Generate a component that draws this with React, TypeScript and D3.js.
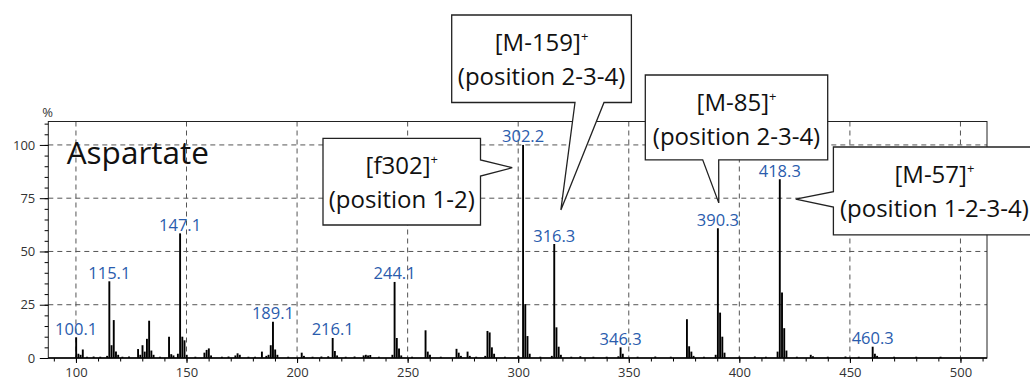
import React from "react";
import * as d3 from "d3";

const W = 1030;
const H = 380;
const plot = { left: 48.3, right: 987, top: 121.5, bottom: 358 };

// m/z of each centroided peak and its relative intensity (%)
const peakMz = [
  100.1, 101.1, 102.1, 103.1, 105, 108, 111,
  114.1, 115.1, 116.1, 117.1, 118.1, 119.1, 121, 124,
  128.1, 129.1, 130.1, 131.1, 132.1, 133.1, 134.1, 135.1, 138,
  142.1, 143.1, 144.1, 146.1, 147.1, 148.1, 149.1, 150.1, 154,
  158.1, 159.1, 160.1, 161.1, 166, 169,
  172.1, 173.1, 174.1, 178, 181,
  184.1, 186.1, 187.1, 188.1, 189.1, 190.1, 191.1, 196,
  202.1, 203.1, 207, 211,
  214.1, 216.1, 217.1, 218.1, 222, 226,
  230.1, 231.1, 232.1, 233.1, 237,
  243.1, 244.1, 245.1, 246.1, 247.1, 252,
  258.1, 259.1, 260.1, 265,
  272.1, 273.1, 274.1, 277.1, 278.1, 281,
  285.1, 286.1, 287.1, 288.1, 289.1, 294,
  300.1, 302.2, 303.2, 304.2, 305.2, 310,
  315.2, 316.3, 317.3, 318.3, 319.3, 324, 328.1, 334,
  340, 345.3, 346.3, 347.3, 354, 362, 369,
  376.3, 377.3, 378.3, 379.3, 384,
  389.3, 390.3, 391.3, 392.3, 393.3, 400, 407, 412,
  417.3, 418.3, 419.3, 420.3, 421.3, 426,
  432.3, 433.3, 440, 448, 454,
  460.3, 461.3, 462.3, 470, 480, 491
];
const peakPct = [
  9.7, 2, 1.5, 4, 0.6, 0.7, 0.6,
  1, 36, 6, 17.8, 3, 1.5, 0.6, 0.7,
  4.2, 1.5, 6, 3, 9, 17.5, 3.5, 1.5, 0.6,
  10, 1.8, 1.2, 2, 58.5, 10, 8.3, 1.5, 0.6,
  2.5, 3.8, 4.5, 1.2, 0.6, 0.7,
  1.2, 2.2, 1.5, 0.6, 0.6,
  3, 1, 1.5, 6, 17, 4, 1.5, 0.6,
  2.5, 1, 0.6, 0.7,
  0.8, 9.4, 3.3, 1.2, 0.6, 0.7,
  1.2, 1.5, 1.2, 1.4, 0.6,
  1.5, 35.7, 9.4, 4.5, 1.2, 0.6,
  13, 3, 1.5, 0.6,
  4.3, 2.5, 1, 3, 1, 0.6,
  1, 12.7, 12, 5, 2, 0.6,
  1, 100, 25.3, 10.3, 2, 0.6,
  1, 53.5, 14.4, 5.3, 1.5, 0.6, 0.8, 0.6,
  0.6, 0.8, 5, 2, 0.6, 0.7, 0.6,
  18.2, 5.5, 3, 1, 0.6,
  1.5, 60.9, 21.3, 10, 2.5, 0.6, 0.7, 0.6,
  3, 83.9, 30.7, 14, 3.5, 0.6,
  1.5, 0.8, 0.6, 0.7, 0.6,
  5.3, 2, 1, 0.6, 0.6, 0.6
];

const labeledMz = [100.1, 115.1, 147.1, 189.1, 216.1, 244.1, 302.2, 316.3, 346.3, 390.3, 418.3, 460.3];

const xTicks = [100, 150, 200, 250, 300, 350, 400, 450, 500];
const yTicks = [0, 25, 50, 75, 100];

const calloutIons = ["[f302]", "[M-159]", "[M-85]", "[M-57]"];
const calloutPositions = ["(position 1-2)", "(position 2-3-4)", "(position 2-3-4)", "(position 1-2-3-4)"];
const calloutTargetMz = [297.3, 319.3, 390.7, 425.5];
const calloutTargetPct = [89.3, 69.5, 72.8, 74.6];

// box layout in px; a/b = where the pointer leaves the box edge
const calloutBoxes = [
  { x: 323, y: 138.3, w: 157.5, h: 86.7, side: "right", a: 160, b: 176 },
  { x: 451.7, y: 15, w: 179.7, h: 87.5, side: "bottom", a: 575, b: 604 },
  { x: 645.3, y: 75, w: 182.4, h: 84.8, side: "bottom", a: 702.7, b: 718.7 },
  { x: 833.4, y: 147, w: 202, h: 87.8, side: "left", a: 191.7, b: 207 }
];

const FONT = "'Open Sans', 'Noto Sans', sans-serif";

function calloutPath(bx: any, tx: number, ty: number) {
  const { x, y, w, h, side, a, b } = bx;
  let pts: number[][];
  if (side === "right") {
    pts = [[x, y], [x + w, y], [x + w, a], [tx, ty], [x + w, b], [x + w, y + h], [x, y + h]];
  } else if (side === "bottom") {
    pts = [[x, y], [x + w, y], [x + w, y + h], [b, y + h], [tx, ty], [a, y + h], [x, y + h]];
  } else {
    pts = [[x, y], [x + w, y], [x + w, y + h], [x, y + h], [x, b], [tx, ty], [x, a]];
  }
  return "M" + pts.map(p => p.join(",")).join("L") + "Z";
}

export default function App() {
  const xAxisRef = React.useRef<SVGGElement>(null);
  const yAxisRef = React.useRef<SVGGElement>(null);

  const x = d3.scaleLinear().domain([87.5, 512]).range([plot.left, plot.right]);
  const y = d3.scaleLinear().domain([0, 111]).range([plot.bottom, plot.top]);

  React.useEffect(() => {
    const gx = d3.select(xAxisRef.current);
    gx.selectAll("*").remove();
    gx.append("g")
      .call(d3.axisBottom(x).tickValues(d3.range(90, 512, 10)).tickSize(3.5).tickFormat(() => ""))
      .call(g => g.select(".domain").remove());
    gx.append("g")
      .call(d3.axisBottom(x).tickValues(xTicks).tickSize(5).tickPadding(5).tickFormat(d3.format("d")))
      .call(g => g.select(".domain").remove())
      .call(g => g.selectAll("text").attr("font-size", 13).attr("font-family", FONT).attr("fill", "#333"));

    const gy = d3.select(yAxisRef.current);
    gy.selectAll("*").remove();
    gy.append("g")
      .call(d3.axisLeft(y).tickValues(d3.range(0, 111, 5)).tickSize(3.7).tickFormat(() => ""))
      .call(g => g.select(".domain").remove());
    gy.append("g")
      .call(d3.axisLeft(y).tickValues(yTicks).tickSize(8.5).tickPadding(4.5).tickFormat(d3.format("d")))
      .call(g => g.select(".domain").remove())
      .call(g => g.selectAll("text").attr("font-size", 13).attr("font-family", FONT).attr("fill", "#333"));
  }, []);

  const peaks = peakMz.map((m, i) => ({ mz: m, pct: peakPct[i] }));

  return (
    <svg width={W} height={H} style={{ position: "absolute", left: 0, top: 0, background: "#fff" }}>
      {/* grid */}
      <g stroke="#555" strokeWidth={1} strokeDasharray="5,4">
        {yTicks.filter(t => t > 0).map(t => (
          <line key={"h" + t} x1={plot.left} x2={plot.right} y1={y(t)} y2={y(t)} />
        ))}
        {xTicks.map(t => (
          <line key={"v" + t} x1={x(t)} x2={x(t)} y1={plot.top} y2={plot.bottom} />
        ))}
      </g>

      <text x={66.7} y={164.3} fontFamily={FONT} fontSize={31.5} fill="#111">Aspartate</text>

      {/* spectrum */}
      <g stroke="#000" strokeWidth={1.9}>
        {peaks.map((p, i) => (
          <line key={i} x1={x(p.mz)} x2={x(p.mz)} y1={y(0)} y2={y(p.pct)} />
        ))}
      </g>

      {/* frame */}
      <rect x={plot.left} y={plot.top} width={plot.right - plot.left} height={plot.bottom - plot.top}
        fill="none" stroke="#222" strokeWidth={1} />
      <line x1={plot.left} x2={plot.right} y1={plot.bottom} y2={plot.bottom} stroke="#000" strokeWidth={1.6} />
      <g ref={xAxisRef} transform={`translate(0,${plot.bottom})`} />
      <g ref={yAxisRef} transform={`translate(${plot.left},0)`} />
      <text x={47.5} y={116.5} textAnchor="middle" fontFamily={FONT} fontSize={13} fill="#333">%</text>

      {/* peak labels */}
      <g fontFamily={FONT} fontSize={16.5} fill="#2a5cad" textAnchor="middle">
        {labeledMz.map(m => {
          const p = peaks.find(d => d.mz === m)!;
          return <text key={m} x={x(p.mz)} y={y(p.pct) - 2.5}>{m.toFixed(1)}</text>;
        })}
      </g>

      {/* callouts */}
      {calloutBoxes.map((bx, i) => {
        const tx = x(calloutTargetMz[i]);
        const ty = y(calloutTargetPct[i]);
        const cx = bx.x + bx.w / 2;
        return (
          <g key={i}>
            <path d={calloutPath(bx, tx, ty)} fill="#fff" stroke="#222" strokeWidth={1.3} />
            <g fontFamily={FONT} fontSize={24} fill="#111" textAnchor="middle">
              <text x={cx} y={bx.y + 36}>
                {calloutIons[i]}
                <tspan fontSize={13} dy={-10}>+</tspan>
              </text>
              <text x={cx} y={bx.y + 70}>{calloutPositions[i]}</text>
            </g>
          </g>
        );
      })}
    </svg>
  );
}
